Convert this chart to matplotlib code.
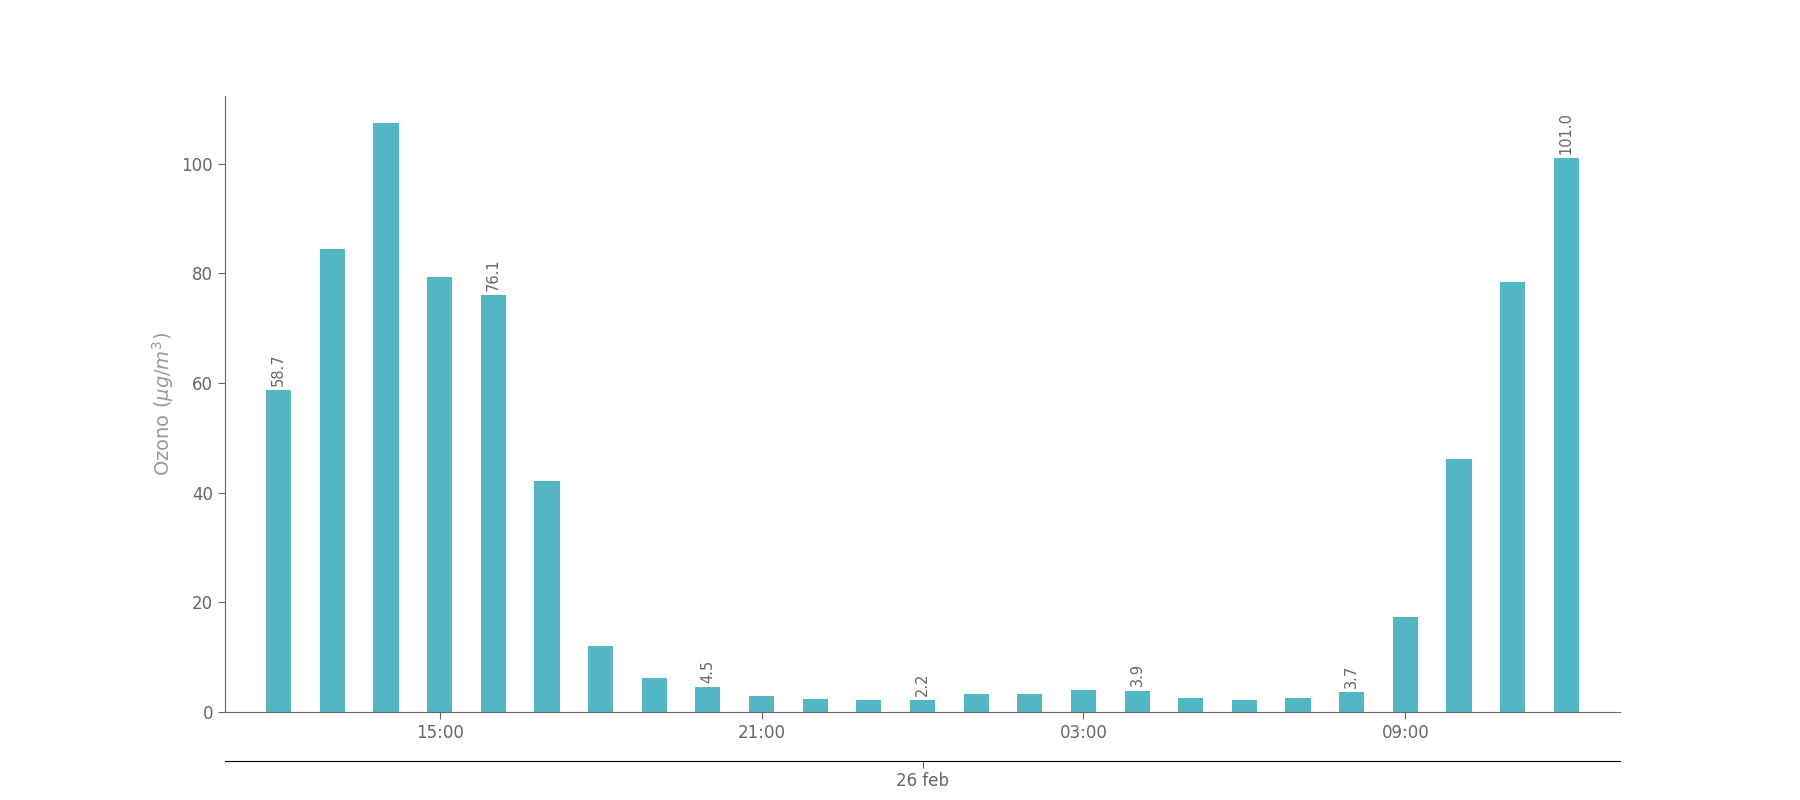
import matplotlib
matplotlib.use('Agg')
import matplotlib.pyplot as plt
import matplotlib.dates as mdates
import pandas as pd

# hourly ozone, 25 feb 12:00 -> 26 feb 12:00
start = '2025-02-25 12:00'
ozone = [58.7, 84.5, 107.5, 79.3, 76.1, 42.2, 12.0, 6.2, 4.5, 2.9, 2.4, 2.1,
         2.2, 3.3, 3.3, 4.0, 3.9, 2.6, 2.1, 2.6, 3.7, 17.3, 46.2, 78.5, 101.0]
label_every = 4
times = pd.date_range(start, periods=len(ozone), freq='h')

bar_color = '#52b6c5'
text_grey = '#666666'

fig = plt.figure(figsize=(18, 8), dpi=100)
ax = fig.add_axes([0.125, 0.11, 0.775, 0.77])

ax.bar(times, ozone, width=0.47 / 24, color=bar_color)
for i, (t, v) in enumerate(zip(times, ozone)):
    if i % label_every == 0:
        ax.annotate(f'{v:.1f}', (mdates.date2num(t), v), xytext=(0, 3),
                    textcoords='offset points', rotation=90, ha='center',
                    va='bottom', fontsize=10.5, color=text_grey)

one_h = pd.Timedelta(hours=1)
ax.set_xlim(times[0] - one_h, times[-1] + one_h)
ax.set_ylim(0, max(ozone) * 1.045)
ax.set_yticks([0, 20, 40, 60, 80, 100])

ax.xaxis.set_major_locator(mdates.HourLocator(byhour=[3, 9, 15, 21]))
ax.xaxis.set_major_formatter(mdates.DateFormatter('%H:%M'))

for s in ['top', 'right']:
    ax.spines[s].set_visible(False)
for s in ['left', 'bottom']:
    ax.spines[s].set_color(text_grey)
ax.tick_params(colors=text_grey, labelsize=12, length=5)
ax.set_ylabel(r'Ozono ($\mu g/m^3$)', fontsize=14, color='#999999', labelpad=4)

# day axis below
ax2 = ax.twiny()
ax2.set_xlim(ax.get_xlim())
ax2.xaxis.set_ticks_position('bottom')
ax2.xaxis.set_label_position('bottom')
ax2.spines['bottom'].set_position(('outward', 35))
for s in ['top', 'right', 'left']:
    ax2.spines[s].set_visible(False)
ax2.spines['bottom'].set_color('black')
ax2.xaxis.set_major_locator(mdates.DayLocator())
ax2.xaxis.set_major_formatter(
    plt.FuncFormatter(lambda x, pos: mdates.num2date(x).strftime('%d %b').lower()))
ax2.tick_params(colors=text_grey, labelsize=12, length=5, pad=3)
ax2.tick_params(axis='x', color=text_grey)

fig.savefig('out.png', dpi=100)
